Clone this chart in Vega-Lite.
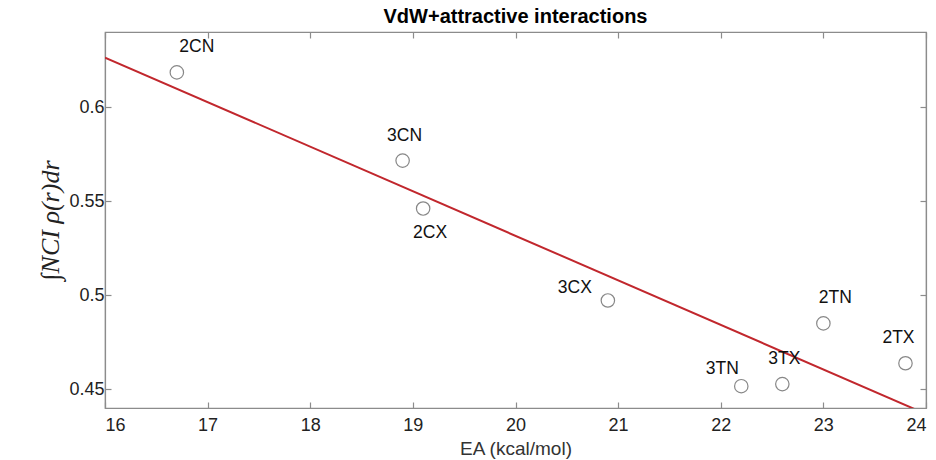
{
  "$schema": "https://vega.github.io/schema/vega-lite/v6.json",
  "autosize": "none",
  "width": 821,
  "height": 376,
  "padding": {"left": 105, "top": 32, "right": 10, "bottom": 52},
  "background": "white",
  "config": {
    "view": {"stroke": "#8c8c8c", "strokeWidth": 1.2},
    "font": "Liberation Sans",
    "axis": {"domainColor": "#8c8c8c", "tickColor": "#8c8c8c", "labelColor": "#222222", "labelFont": "Liberation Sans", "labelFontSize": 18, "grid": false, "tickSize": -6, "domainWidth": 1.2, "tickWidth": 1.2}
  },
  "title": {"text": "VdW+attractive interactions", "fontSize": 20, "fontWeight": "bold", "font": "Liberation Sans", "color": "#000000", "offset": 4},
  "datasets": {
    "pts": [
      {"name": "2CN", "ea": 16.7, "nci": 0.6185},
      {"name": "3CN", "ea": 18.9, "nci": 0.5716},
      {"name": "2CX", "ea": 19.1, "nci": 0.5461},
      {"name": "3CX", "ea": 20.9, "nci": 0.4972},
      {"name": "2TN", "ea": 23.0, "nci": 0.485},
      {"name": "2TX", "ea": 23.8, "nci": 0.4638},
      {"name": "3TN", "ea": 22.2, "nci": 0.4516},
      {"name": "3TX", "ea": 22.6, "nci": 0.4527}
    ],
    "fit": [
      {"ea": 16.0, "nci": 0.6264},
      {"ea": 24.0, "nci": 0.4368}
    ]
  },
  "layer": [
    {
      "data": {"name": "fit"},
      "mark": {"type": "line", "color": "#c1272d", "strokeWidth": 2, "clip": true},
      "encoding": {
        "x": {"field": "ea", "type": "quantitative", "scale": {"domain": [16, 24], "nice": false, "zero": false},
          "axis": {"title": "EA (kcal/mol)", "titleFontSize": 19, "titleFontWeight": "normal", "titleColor": "#333333", "titleFont": "Liberation Sans", "values": [16,17,18,19,20,21,22,23,24], "labelPadding": 14, "titlePadding": 5}},
        "y": {"field": "nci", "type": "quantitative", "scale": {"domain": [0.44, 0.64], "nice": false, "zero": false},
          "axis": {"title": "∫NCI ρ(r)dr", "titleFont": "Liberation Serif", "titleFontStyle": "italic", "titleFontWeight": "normal", "titleFontSize": 26, "titleColor": "#222222", "values": [0.45, 0.5, 0.55, 0.6], "format": "~g", "labelPadding": 7, "titlePadding": 5}}
      }
    },
    {
      "data": {"name": "pts"},
      "mark": {"type": "point", "shape": "circle", "filled": false, "stroke": "#555555", "strokeWidth": 1.2, "size": 180},
      "encoding": {
        "x": {"field": "ea", "type": "quantitative", "axis": {"orient": "top", "labels": false, "title": null, "values": [16,17,18,19,20,21,22,23,24]}},
        "y": {"field": "nci", "type": "quantitative", "axis": {"orient": "right", "labels": false, "title": null, "values": [0.45, 0.5, 0.55, 0.6]}}
      }
    },
    {
      "data": {"name": "pts"},
      "transform": [{"filter": "datum.name == '2CN'"}],
      "mark": {"type": "text", "fontSize": 17.5, "color": "#111111", "dx": 20, "dy": -25},
      "encoding": {"x": {"field": "ea", "type": "quantitative", "axis": null}, "y": {"field": "nci", "type": "quantitative", "axis": null}, "text": {"field": "name"}}
    },
    {
      "data": {"name": "pts"},
      "transform": [{"filter": "indexof(['3CN','3TX'], datum.name) >= 0"}],
      "mark": {"type": "text", "fontSize": 17.5, "color": "#111111", "dx": 2, "dy": -25},
      "encoding": {"x": {"field": "ea", "type": "quantitative", "axis": null}, "y": {"field": "nci", "type": "quantitative", "axis": null}, "text": {"field": "name"}}
    },
    {
      "data": {"name": "pts"},
      "transform": [{"filter": "datum.name == '2TN'"}],
      "mark": {"type": "text", "fontSize": 17.5, "color": "#111111", "dx": 12, "dy": -25},
      "encoding": {"x": {"field": "ea", "type": "quantitative", "axis": null}, "y": {"field": "nci", "type": "quantitative", "axis": null}, "text": {"field": "name"}}
    },
    {
      "data": {"name": "pts"},
      "transform": [{"filter": "datum.name == '2TX'"}],
      "mark": {"type": "text", "fontSize": 17.5, "color": "#111111", "dx": -7, "dy": -25},
      "encoding": {"x": {"field": "ea", "type": "quantitative", "axis": null}, "y": {"field": "nci", "type": "quantitative", "axis": null}, "text": {"field": "name"}}
    },
    {
      "data": {"name": "pts"},
      "transform": [{"filter": "datum.name == '2CX'"}],
      "mark": {"type": "text", "fontSize": 17.5, "color": "#111111", "dx": 7, "dy": 24},
      "encoding": {"x": {"field": "ea", "type": "quantitative", "axis": null}, "y": {"field": "nci", "type": "quantitative", "axis": null}, "text": {"field": "name"}}
    },
    {
      "data": {"name": "pts"},
      "transform": [{"filter": "datum.name == '3CX'"}],
      "mark": {"type": "text", "fontSize": 17.5, "color": "#111111", "dx": -33, "dy": -12},
      "encoding": {"x": {"field": "ea", "type": "quantitative", "axis": null}, "y": {"field": "nci", "type": "quantitative", "axis": null}, "text": {"field": "name"}}
    },
    {
      "data": {"name": "pts"},
      "transform": [{"filter": "datum.name == '3TN'"}],
      "mark": {"type": "text", "fontSize": 17.5, "color": "#111111", "dx": -19, "dy": -17},
      "encoding": {"x": {"field": "ea", "type": "quantitative", "axis": null}, "y": {"field": "nci", "type": "quantitative", "axis": null}, "text": {"field": "name"}}
    }
  ],
  "resolve": {"axis": {"x": "independent", "y": "independent"}}
}
